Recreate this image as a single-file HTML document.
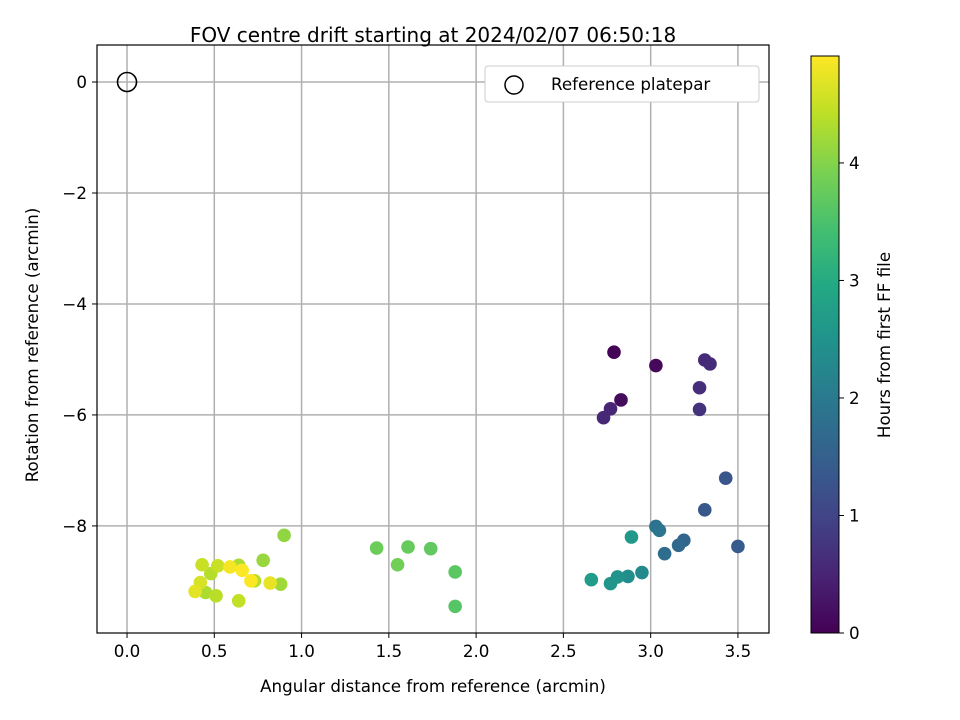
<!DOCTYPE html>
<html><head><meta charset="utf-8"><style>
html,body{margin:0;padding:0;background:#fff;}
svg{display:block;font-family:"DejaVu Sans","Liberation Sans",sans-serif;}
</style></head><body>
<svg id="chart" width="960" height="720">
<defs><linearGradient id="vir" x1="0" y1="1" x2="0" y2="0"></linearGradient></defs>
<rect width="960" height="720" fill="#fff"/>
<g id="grid"></g>
<g id="points"></g>
<g id="axes"></g>
<text x="433" y="42" text-anchor="middle" font-size="20">FOV centre drift starting at 2024/02/07 06:50:18</text>
<text x="433" y="692" text-anchor="middle" font-size="16.7">Angular distance from reference (arcmin)</text>
<text transform="translate(38,345) rotate(-90)" text-anchor="middle" font-size="16.7">Rotation from reference (arcmin)</text>
<g>
<rect x="485" y="66" width="274" height="36" rx="3" fill="#fff" stroke="#ccc"/>
<circle cx="514" cy="85" r="9" fill="none" stroke="#000" stroke-width="1.5"/>
<text x="551" y="90" font-size="16.7">Reference platepar</text>
</g>
<g id="cbar"></g>
<text transform="translate(890,345) rotate(-90)" text-anchor="middle" font-size="16.7">Hours from first FF file</text>
</svg>
<script>
const xs=[2.79,3.03,2.83,2.77,2.73,3.31,3.34,3.28,3.28,3.43,3.31,3.50,3.19,3.16,3.08,3.03,3.05,2.89,2.95,2.87,2.81,2.77,2.66,1.43,1.61,1.74,1.55,1.88,1.88,0.90,0.78,0.88,0.73,0.64,0.48,0.45,0.51,0.64,0.43,0.52,0.42,0.39,0.82,0.59,0.66,0.71];
const ys=[-4.87,-5.11,-5.73,-5.89,-6.05,-5.01,-5.08,-5.51,-5.90,-7.14,-7.71,-8.37,-8.26,-8.35,-8.50,-8.01,-8.08,-8.20,-8.84,-8.91,-8.92,-9.04,-8.97,-8.40,-8.38,-8.41,-8.70,-8.83,-9.45,-8.17,-8.62,-9.05,-8.99,-8.71,-8.86,-9.20,-9.26,-9.35,-8.70,-8.72,-9.02,-9.18,-9.03,-8.74,-8.80,-8.99];
const hours=[0.05,0.1,0.15,0.5,0.55,0.6,0.6,0.65,0.7,1.3,1.35,1.4,1.6,1.65,1.75,1.85,1.9,2.6,2.3,2.4,2.5,2.55,2.7,3.8,3.75,3.7,3.85,3.65,3.6,4.1,4.15,4.2,4.35,4.3,4.35,4.3,4.4,4.45,4.5,4.5,4.6,4.7,4.75,4.85,4.9,4.9];
const xTicks=[0,0.5,1,1.5,2,2.5,3,3.5];
const yTicks=[0,-2,-4,-6,-8];
const cTicks=[0,1,2,3,4];
const L=97,R=769,T=45,B=633;
const xMin=-0.172,xMax=3.678,yMin=-9.93,yMax=0.667,cMax=4.91;
const X=v=>L+(v-xMin)/(xMax-xMin)*(R-L);
const Y=v=>B-(v-yMin)/(yMax-yMin)*(B-T);
const C=v=>633-v/cMax*(633-56);
const vir=["#440154","#482475","#414487","#355f8d","#2a788e","#21918c","#22a884","#44bf70","#7ad151","#bddf26","#fde725"];
function hex(h){return [1,3,5].map(i=>parseInt(h.substr(i,2),16));}
function col(t){t=Math.max(0,Math.min(1,t))*(vir.length-1);const i=Math.min(vir.length-2,Math.floor(t)),f=t-i;const a=hex(vir[i]),b=hex(vir[i+1]);return "rgb("+a.map((v,k)=>Math.round(v+(b[k]-v)*f)).join(",")+")";}
const NS="http://www.w3.org/2000/svg";
function mk(tag,attrs,parent){const e=document.createElementNS(NS,tag);for(const k in attrs)e.setAttribute(k,attrs[k]);parent.appendChild(e);return e;}
const grid=document.getElementById('grid'),axes=document.getElementById('axes'),pts=document.getElementById('points'),cb=document.getElementById('cbar');
xTicks.forEach(v=>{const x=X(v);
const g=mk('line',{x1:x,x2:x,y1:T,y2:B,stroke:'#b0b0b0','stroke-width':1.5},grid);


mk('line',{x1:x,x2:x,y1:B,y2:B+5,stroke:'#000','stroke-width':1},axes);
const t=mk('text',{x:x,y:B+24,'text-anchor':'middle','font-size':16.7},axes);t.textContent=v.toFixed(1).replace('-','−');

});
yTicks.forEach(v=>{const y=Y(v);
const g=mk('line',{x1:L,x2:R,y1:y,y2:y,stroke:'#b0b0b0','stroke-width':1.5},grid);


mk('line',{x1:L-5,x2:L,y1:y,y2:y,stroke:'#000','stroke-width':1},axes);
const t=mk('text',{x:L-10,y:y+6,'text-anchor':'end','font-size':16.7},axes);t.textContent=String(v).replace('-','−');

});
const ref=mk('circle',{cx:X(0),cy:Y(0),r:9.5,fill:'none',stroke:'#000','stroke-width':1.6},pts);


xs.forEach((x,i)=>{const c=mk('circle',{cx:X(x),cy:Y(ys[i]),r:6.8,fill:col(hours[i]/cMax)},pts);

});
const fr=mk('rect',{x:L,y:T,width:R-L,height:B-T,fill:'none',stroke:'#000','stroke-width':1.2},axes);


const grad=document.getElementById('vir');
vir.forEach((c,i)=>mk('stop',{offset:(i/(vir.length-1)),'stop-color':c},grad));
const bar=mk('rect',{x:811,y:56,width:28,height:577,fill:'url(#vir)',stroke:'#000','stroke-width':1},cb);


cTicks.forEach(v=>{const y=C(v);
mk('line',{x1:839,x2:844,y1:y,y2:y,stroke:'#000'},cb);
const t=mk('text',{x:849,y:y+6,'font-size':16.7},cb);t.textContent=v;

});
</script>
</body></html>
